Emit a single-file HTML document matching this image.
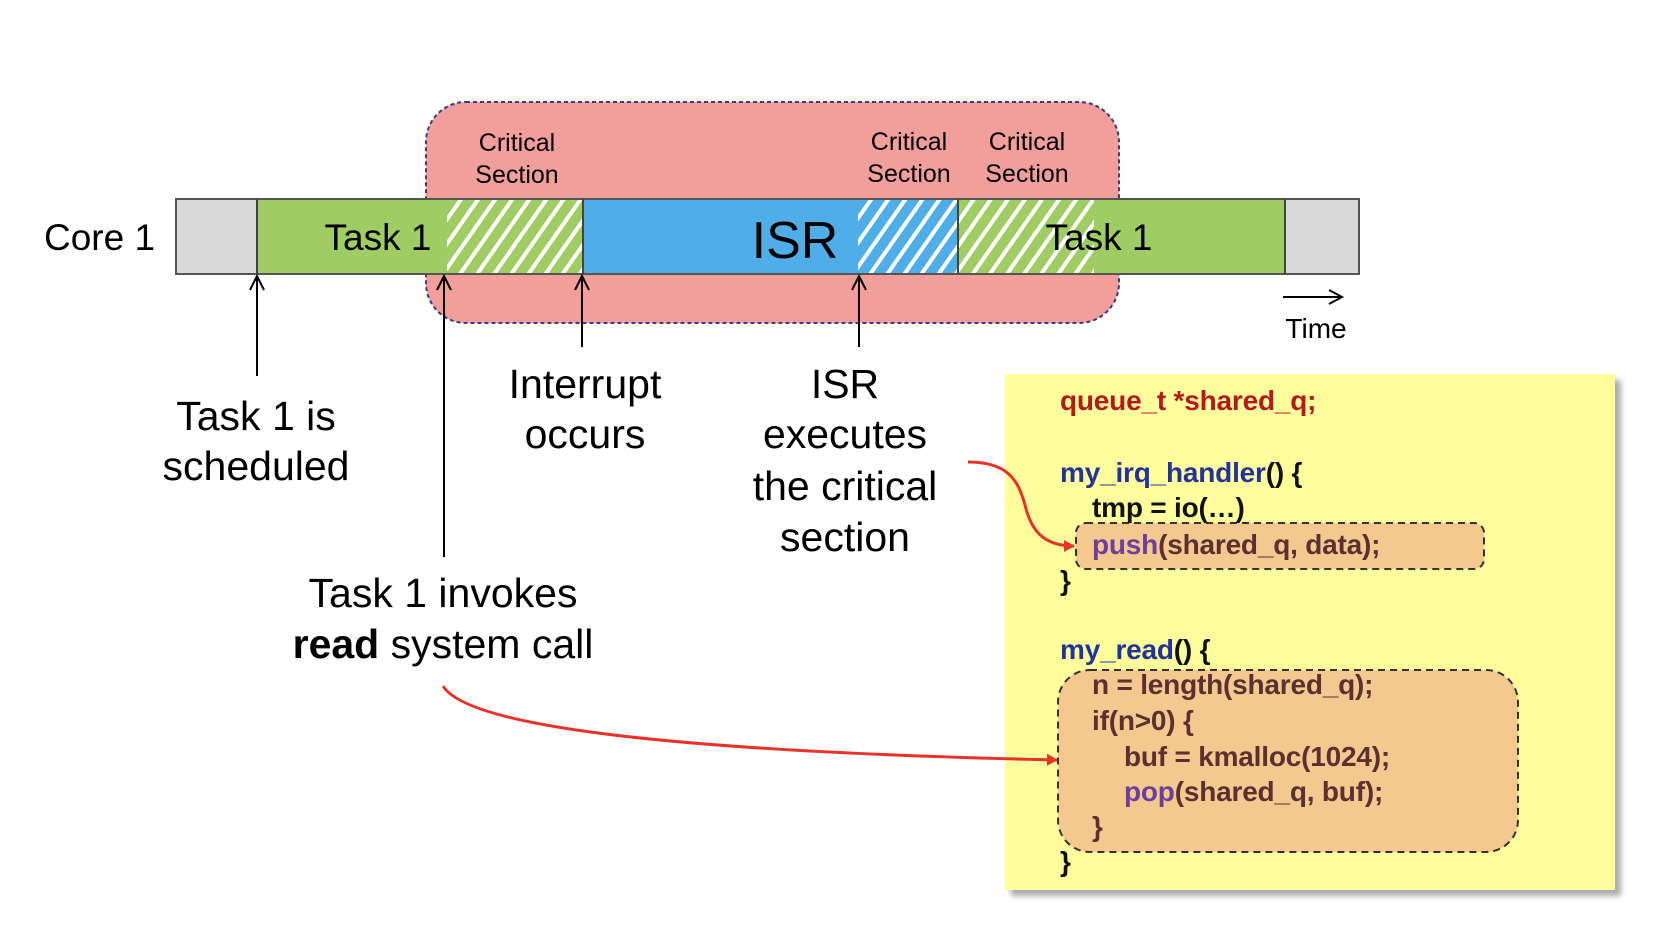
<!DOCTYPE html>
<html><head><meta charset="utf-8"><style>
html,body{margin:0;padding:0;background:#fff;width:1656px;height:932px;overflow:hidden}
svg{display:block}
text{font-family:"Liberation Sans",sans-serif}
</style></head><body>
<svg width="1656" height="932" viewBox="0 0 1656 932" xmlns="http://www.w3.org/2000/svg">
<defs>
<pattern id="hg" width="14" height="14" patternUnits="userSpaceOnUse" patternTransform="rotate(35)">
<rect width="14" height="14" fill="#9fcd63"/><rect width="4" height="14" fill="#fff"/></pattern>
<pattern id="hb" width="14" height="14" patternUnits="userSpaceOnUse" patternTransform="rotate(35)">
<rect width="14" height="14" fill="#4faee8"/><rect width="4" height="14" fill="#fff"/></pattern>
<marker id="ar" markerWidth="12" markerHeight="12" refX="10" refY="6" orient="auto" markerUnits="userSpaceOnUse">
<path d="M0,0 L11,6 L0,12 Z" fill="#e8322a"/></marker>
<filter id="sh" x="-5%" y="-5%" width="115%" height="115%"><feDropShadow dx="6" dy="6" stdDeviation="3" flood-color="#888" flood-opacity="0.7"/></filter>
</defs>

<rect x="426" y="102" width="693" height="221" rx="40" fill="#f29e9b" stroke="#3a3a8a" stroke-width="2" stroke-dasharray="4,3"/>

<rect x="176" y="199" width="81" height="75" fill="#d9d9d9"/>
<rect x="257" y="199" width="190" height="75" fill="#9fcd63"/>
<rect x="447" y="199" width="136" height="75" fill="url(#hg)"/>
<rect x="583" y="199" width="275" height="75" fill="#4faee8"/>
<rect x="858" y="199" width="100" height="75" fill="url(#hb)"/>
<rect x="958" y="199" width="136" height="75" fill="url(#hg)"/>
<rect x="1094" y="199" width="191" height="75" fill="#9fcd63"/>
<rect x="1285" y="199" width="74" height="75" fill="#d9d9d9"/>
<rect x="176" y="199" width="1183" height="75" fill="none" stroke="#555" stroke-width="2"/>
<g stroke="#444" stroke-width="2"><line x1="257" y1="199" x2="257" y2="274"/><line x1="583" y1="199" x2="583" y2="274"/><line x1="958" y1="199" x2="958" y2="274"/><line x1="1285" y1="199" x2="1285" y2="274"/></g>

<text x="44" y="250" font-size="37">Core 1</text>
<text x="378" y="250" font-size="37" text-anchor="middle">Task 1</text>
<text x="795" y="258" font-size="52" text-anchor="middle">ISR</text>
<text x="1099" y="250" font-size="37" text-anchor="middle">Task 1</text>

<g font-size="25" text-anchor="middle">
<text x="517" y="151">Critical</text><text x="517" y="183">Section</text>
<text x="909" y="150">Critical</text><text x="909" y="182">Section</text>
<text x="1027" y="150">Critical</text><text x="1027" y="182">Section</text>
</g>

<g stroke="#000" stroke-width="2" fill="none">
<line x1="257" y1="276" x2="257" y2="376"/><path d="M250,290 L257,276 L264,290"/>
<line x1="444" y1="276" x2="444" y2="557"/><path d="M437,290 L444,276 L451,290"/>
<line x1="582" y1="276" x2="582" y2="347"/><path d="M575,290 L582,276 L589,290"/>
<line x1="859" y1="276" x2="859" y2="347"/><path d="M852,290 L859,276 L866,290"/>
<line x1="1283" y1="297" x2="1341" y2="297"/><path d="M1329,290 L1342,297 L1329,304"/>
</g>
<text x="1316" y="338" font-size="28" text-anchor="middle">Time</text>

<g font-size="41" text-anchor="middle">
<text x="256" y="430">Task 1 is</text><text x="256" y="480">scheduled</text>
<text x="585" y="398">Interrupt</text><text x="585" y="448">occurs</text>
<text x="845" y="398">ISR</text><text x="845" y="448">executes</text><text x="845" y="500">the critical</text><text x="845" y="551">section</text>
<text x="443" y="607">Task 1 invokes</text>
<text x="443" y="658"><tspan font-weight="bold">read</tspan> system call</text>
</g>

<rect x="1005" y="374" width="610" height="516" fill="#ffff9e" filter="url(#sh)"/>
<rect x="1076" y="523" width="408" height="46" rx="10" fill="#f4c88e" stroke="#333" stroke-width="2" stroke-dasharray="7,5"/>
<rect x="1058" y="670" width="460" height="182" rx="32" fill="#f4c88e" stroke="#333" stroke-width="2" stroke-dasharray="7,5"/>

<g font-size="28" font-weight="bold" letter-spacing="-0.2">
<text x="1060" y="410" fill="#b5191c">queue_t *shared_q;</text>
<text x="1060" y="482"><tspan fill="#23339a">my_irq_handler</tspan><tspan fill="#111">() {</tspan></text>
<text x="1092" y="517" fill="#111">tmp = io(…)</text>
<text x="1092" y="554"><tspan fill="#6c3f9c">push</tspan><tspan fill="#5a3030">(shared_q, data);</tspan></text>
<text x="1060" y="590" fill="#111">}</text>
<text x="1060" y="659"><tspan fill="#23339a">my_read</tspan><tspan fill="#111">() {</tspan></text>
<text x="1092" y="694" fill="#5a3030">n = length(shared_q);</text>
<text x="1092" y="730" fill="#5a3030">if(n&gt;0) {</text>
<text x="1124" y="766" fill="#5a3030">buf = kmalloc(1024);</text>
<text x="1124" y="801"><tspan fill="#6c3f9c">pop</tspan><tspan fill="#5a3030">(shared_q, buf);</tspan></text>
<text x="1092" y="836" fill="#5a3030">}</text>
<text x="1060" y="871" fill="#111">}</text>
</g>

<path d="M968,462 C1008,462 1018,480 1025,505 C1031,530 1043,546 1074,546" fill="none" stroke="#e8322a" stroke-width="3" marker-end="url(#ar)"/>
<path d="M443,686 C470,730 700,752 1057,760" fill="none" stroke="#e8322a" stroke-width="3" marker-end="url(#ar)"/>
</svg>
</body></html>
